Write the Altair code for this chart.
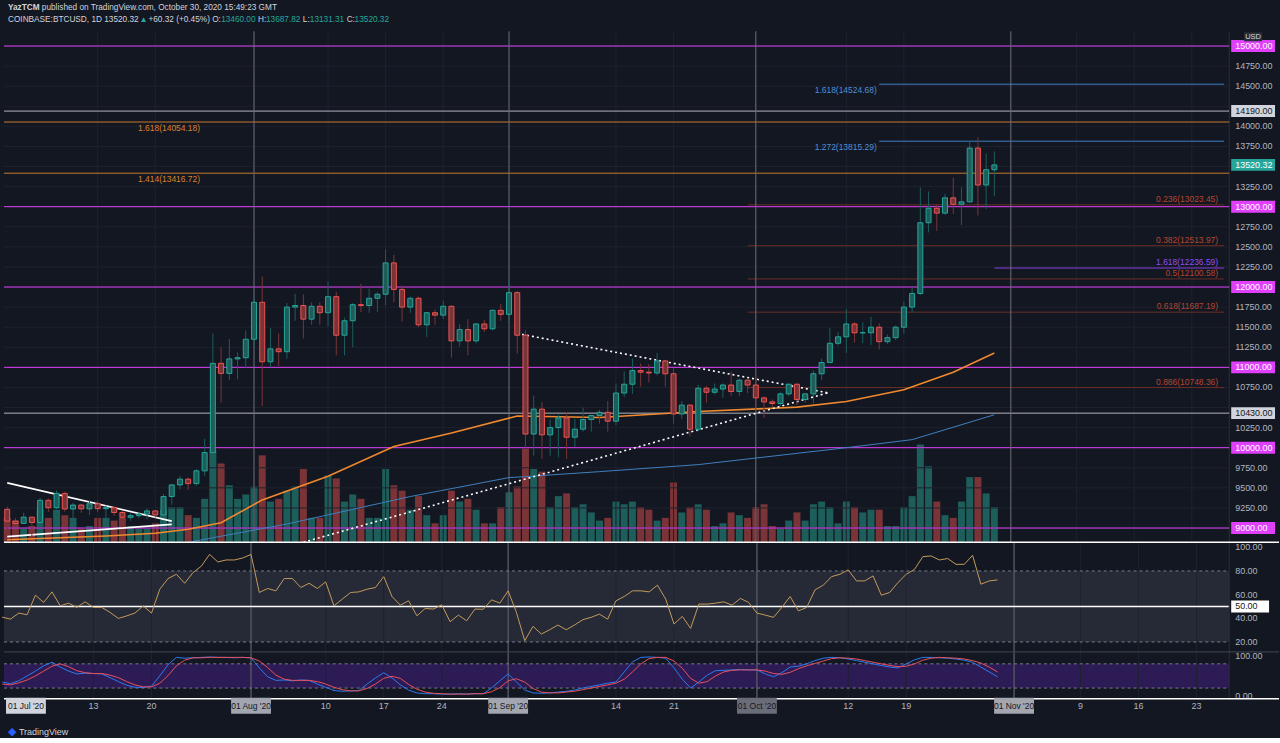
import altair as alt
import pandas as pd

FONT = "Liberation Sans"
BG = "#131722"
UP = "#26a69a"
DOWN = "#ef5350"
MAGENTA = "#e040fb"
TXT = "#b2b5be"
GRID = "#1e222d"

# ---------------- data ----------------
dates = pd.date_range("2020-07-02", periods=121, freq="D")

opens = [9232, 9086, 9058, 9135, 9069, 9345, 9253, 9431, 9237, 9286, 9239, 9302, 9241, 9253, 9193,
         9133, 9154, 9174, 9213, 9163, 9392, 9537, 9608, 9553, 9712, 9939, 11050, 10925, 11105, 11120,
         11350, 11810, 11070, 11230, 11195, 11750, 11770, 11600, 11760, 11680, 11880, 11400, 11580, 11780, 11770,
         11860, 11910, 12300, 11970, 11750, 11860, 11530, 11680, 11650, 11760, 11330, 11470, 11330, 11540, 11480, 11710,
         11660, 11930, 11400, 10170, 10480, 10160, 10250, 10370, 10130, 10230, 10350, 10400, 10440, 10330, 10680,
         10790, 10960, 10940, 10930, 11080, 10920, 10420, 10530, 10230, 10740, 10690, 10730, 10780, 10700, 10840,
         10780, 10620, 10570, 10550, 10670, 10790, 10600, 10670, 10920, 11060, 11300, 11380, 11540, 11430, 11430,
         11500, 11320, 11370, 11500, 11750, 11920, 12800, 12980, 12920, 13110, 13030, 13060, 13730, 13270, 13460]
closes = opens[1:] + [13520]
highs = [9268, 9125, 9190, 9140, 9375, 9365, 9470, 9452, 9315, 9300, 9345, 9340, 9280, 9275, 9215,
         9185, 9190, 9245, 9225, 9425, 9545, 9650, 9628, 9735, 10110, 11420, 11250, 11350, 11185, 11460,
         11870, 12130, 11490, 11420, 11800, 11915, 11910, 11810, 11810, 12070, 11940, 11620, 11800, 12040, 11980,
         11935, 12470, 12400, 12020, 11880, 11880, 11690, 11720, 11830, 11770, 11540, 11600, 11550, 11590, 11720, 11790,
         12090, 11950, 11460, 10650, 10570, 10350, 10410, 10440, 10360, 10500, 10400, 10470, 10580, 10800, 10950,
         11110, 11050, 11040, 11180, 11090, 10990, 10580, 10540, 10780, 10770, 10800, 10800, 10950, 10860, 10850,
         10920, 10640, 10600, 10690, 10800, 10800, 10680, 10960, 11110, 11490, 11440, 11730, 11560, 11560, 11630,
         11550, 11410, 11520, 11820, 12000, 13240, 13190, 13030, 13160, 13360, 13240, 13820, 13860, 13660, 13688]
lows = [8935, 9040, 9050, 8900, 9055, 9200, 9235, 9205, 9120, 9190, 9160, 9200, 9115, 9150, 9010,
        9090, 9120, 9110, 9130, 9150, 9290, 9480, 9475, 9527, 9650, 9920, 10560, 10840, 10850, 10990,
        11240, 10520, 11000, 11015, 11105, 11580, 11360, 11530, 11530, 11510, 11150, 11150, 11250, 11690, 11680,
        11690, 11770, 11810, 11570, 11680, 11500, 11380, 11530, 11600, 11120, 11260, 11150, 11300, 11440, 11460, 11580,
        11560, 11170, 10000, 9900, 9860, 9900, 9880, 9860, 10010, 10200, 10200, 10300, 10200, 10280, 10630,
        10670, 10760, 10810, 10900, 10760, 10300, 10360, 10140, 10200, 10560, 10660, 10620, 10640, 10640, 10680,
        10450, 10370, 10500, 10520, 10640, 10530, 10560, 10550, 10840, 11060, 11270, 11180, 11310, 11300, 11280,
        11220, 11290, 11340, 11420, 11680, 11900, 12680, 12700, 12900, 12910, 12770, 13050, 12890, 12970, 13131]
volumes = [9, 8, 5, 6, 12, 9, 12, 10, 9, 5, 6, 9, 9, 8, 9,
           6, 5, 5, 7, 12, 13, 13, 10, 9, 16, 34, 29, 21, 16, 17.6,
           20.5, 32, 15, 16, 19, 20.5, 27, 9, 9, 24.6, 23.5, 15, 17.6, 16, 9,
           9, 27, 21, 19, 12, 17, 10, 7, 10, 19, 15, 16, 12, 7, 7, 13,
           18.4, 20.5, 34.5, 27, 26, 13, 17, 18, 13, 14, 11, 8, 9, 15, 14,
           15, 13, 12, 8, 9, 22, 11, 13, 14, 12, 6, 7, 11, 10, 9,
           13, 14, 6, 5, 8, 11, 8, 14, 15, 13, 7, 15, 13, 11, 12,
           12, 6, 6, 13, 17, 36, 28, 15, 10, 9, 15, 24, 24, 18, 13]
rsi = [41, 39.3, 44.4, 43, 59.5, 53.4, 62.3, 50.5, 52.8, 49.2, 53.9, 49.2, 49.2, 45, 39.9,
       42, 44.4, 50.5, 44.4, 64.6, 73.6, 77.2, 69.6, 78.6, 84, 94, 87.6, 89.3, 89.3, 91,
       94, 61.8, 65.2, 63.2, 73.6, 73.6, 66, 69.6, 65.2, 70.8, 50.5, 56.2, 61.8, 62.3, 64.6,
       66, 75.2, 58.4, 51.1, 54.8, 42.1, 48.3, 47.8, 51.4, 37.1, 42.7, 37.9, 47.8, 47.6, 55.6, 52.8,
       63.2, 45, 21.1, 33.2, 26.7, 30.3, 34.3, 30.3, 34.3, 38.8, 40.8, 43.5, 39.3, 54.8, 58.4,
       63.2, 63.2, 62.3, 68, 56.2, 35.1, 41.6, 31.5, 52, 52, 52.8, 53.9, 51.1, 56.8, 53.4,
       44.4, 42.7, 40.8, 49.2, 58.4, 46.3, 49.2, 64, 68, 75.2, 77.2, 80.9, 71.6, 71.6, 75.8,
       59.5, 61.8, 70.2, 77.2, 81.4, 92.1, 92.7, 89.3, 90.5, 85.6, 85.6, 93.2, 68.8, 71.6, 72.4]
stoch_k = [35, 31, 38, 50, 62, 75, 84, 72, 62, 55, 57, 56, 55, 46, 36,
           27, 22, 21, 25, 50, 78, 96, 94, 95, 96, 97, 96, 96, 95, 96,
           95, 70, 48, 39, 40, 38, 40, 39, 30, 22, 14, 12, 13, 14, 30,
           45, 58, 45, 28, 15, 8, 6, 6, 5, 5, 6, 5, 6, 6, 20, 38,
           55, 35, 15, 8, 7, 8, 10, 12, 15, 20, 24, 28, 32, 35, 60,
           85, 96, 97, 96, 94, 70, 42, 20, 35, 52, 63, 64, 65, 66, 65,
           65, 55, 48, 58, 72, 74, 80, 88, 94, 96, 95, 92, 88, 84, 80,
           76, 72, 70, 80, 90, 96, 96, 95, 94, 92, 89, 84, 72, 60, 48]
stoch_d = [30, 28, 33, 40, 50, 62, 74, 80, 73, 63, 58, 56, 56, 52, 46,
           36, 28, 23, 23, 32, 51, 75, 89, 95, 95, 96, 96, 96, 96, 96,
           95, 87, 71, 52, 42, 39, 39, 39, 36, 30, 22, 16, 13, 13, 19,
           30, 44, 49, 44, 29, 17, 10, 7, 6, 5, 5, 5, 6, 6, 11, 21,
           38, 43, 35, 19, 10, 8, 8, 10, 12, 16, 20, 24, 28, 32, 42,
           60, 80, 93, 96, 96, 87, 69, 44, 32, 36, 50, 60, 64, 65, 65,
           65, 62, 56, 54, 59, 68, 75, 81, 87, 93, 95, 94, 92, 88, 84,
           80, 76, 73, 74, 80, 89, 94, 96, 95, 94, 92, 88, 82, 72, 60]

ma_orange_dates = ["2020-07-02", "2020-07-14", "2020-07-20", "2020-07-24", "2020-07-28", "2020-08-02",
                   "2020-08-10", "2020-08-18", "2020-08-25", "2020-09-02", "2020-09-12", "2020-09-24",
                   "2020-10-06", "2020-10-12", "2020-10-19", "2020-10-25", "2020-10-30"]
ma_orange_vals = [8855, 8900, 8935, 8985, 9066, 9350, 9644, 10016, 10182, 10395, 10375, 10450,
                  10505, 10574, 10720, 10940, 11178]
ma_blue_dates = ["2020-07-24", "2020-08-05", "2020-08-20", "2020-09-01", "2020-09-03", "2020-09-12",
                 "2020-09-24", "2020-10-12", "2020-10-20", "2020-10-30"]
ma_blue_vals = [8822, 9050, 9392, 9628, 9640, 9702, 9789, 10000, 10100, 10410]

# levels
magenta_levels = [15000, 13000, 12000, 11000, 10000, 9000]
gray_levels = [14190, 10430]
orange_levels = [14054.18, 13416.72]
orange_labels = ["1.618(14054.18)", "1.414(13416.72)"]
blue_levels = [14524.68, 13815.29]
blue_labels = ["1.618(14524.68)", "1.272(13815.29)"]
fib_levels = [13023.45, 12513.97, 12100.58, 11687.19, 10748.36]
fib_labels = ["0.236(13023.45)", "0.382(12513.97)", "0.5(12100.58)", "0.618(11687.19)", "0.886(10748.36)"]
purple_level = [12236.59]
purple_label = ["1.618(12236.59)"]

price_ticks = [9250, 9500, 9750, 10250, 10750, 11250, 11500, 11750, 12250, 12500, 12750,
               13250, 13750, 14000, 14500, 14750]
price_grid = list(range(9000, 15001, 250))
rsi_ticks = [100, 80, 60, 40, 20]
stoch_ticks = [100, 0]

trend_solid = [("a", "2020-07-02", 9562), ("a", "2020-07-22", 9086),
               ("b", "2020-07-02", 8893), ("b", "2020-07-22", 9045)]
trend_dotted = [("c", "2020-09-02", 11422), ("c", "2020-10-10", 10678),
                ("d", "2020-08-07", 8822), ("d", "2020-10-10", 10690)]

month_days = ["2020-08-01", "2020-09-01", "2020-10-01", "2020-11-01"]
month_labels = ["01 Aug '20", "01 Sep '20", "01 Oct '20", "01 Nov '20"]
week_days = ["2020-07-13", "2020-07-20", "2020-08-10", "2020-08-17", "2020-08-24", "2020-09-14",
             "2020-09-21", "2020-10-12", "2020-10-19", "2020-11-09", "2020-11-16", "2020-11-23"]
week_labels = ["13", "20", "10", "17", "24", "14", "21", "12", "19", "9", "16", "23"]

# ---------------- helpers ----------------
T0 = pd.Timestamp("2020-07-01")


def dn(s):
    return (pd.Timestamp(s) - T0).days


W = 1230
XS = alt.Scale(domain=[1.213, 148.94], nice=False, zero=False)
PS = alt.Scale(domain=[8822, 15183], nice=False, zero=False)
RS = alt.Scale(domain=[11.6, 104.2], nice=False, zero=False)
SS = alt.Scale(domain=[-6.4, 109.6], nice=False, zero=False)
grid_df = pd.DataFrame({"d": sorted([dn(d) for d in week_days] + [dn(d) for d in month_days])})
one = pd.DataFrame({"a": [0]})


def X(field="d"):
    return alt.X(field + ":Q", scale=XS, axis=None)


def vgrid():
    return alt.Chart(grid_df).mark_rule(color=GRID, strokeWidth=1).encode(x=X())


def tick_labels(vals, scale):
    t = pd.DataFrame({"v": vals, "t": ["%.2f" % v for v in vals]})
    return alt.Chart(t).mark_text(align="left", fontSize=9, font=FONT, color=TXT).encode(
        x=alt.value(W + 6), y=alt.Y("v:Q", scale=scale, axis=None), text="t:N")


df = pd.DataFrame({"d": [(d - T0).days for d in dates], "o": opens, "h": highs, "l": lows,
                   "c": closes, "v": volumes})
df["dir"] = ["up" if c >= o else "down" for o, c in zip(opens, closes)]
dir_scale = alt.Scale(domain=["up", "down"], range=[UP, DOWN])
vol_scale = alt.Scale(domain=["up", "down"], range=["#1d5d5a", "#7a3437"])

# ---------------- main panel ----------------
vol = alt.Chart(df).mark_bar(size=7).encode(
    x=X(), y=alt.Y("v:Q", scale=alt.Scale(domain=[0, 188], nice=False), axis=None),
    color=alt.Color("dir:N", scale=vol_scale, legend=None))

hgrid = alt.Chart(pd.DataFrame({"p": price_grid})).mark_rule(color=GRID, strokeWidth=1).encode(
    x=alt.value(0), x2=alt.value(W), y=alt.Y("p:Q", scale=PS, axis=None))
border = alt.Chart(one).mark_rule(color="#2a2e39", strokeWidth=1).encode(
    x=alt.value(W), y=alt.value(0), y2=alt.value(513))

full_lines = pd.DataFrame({
    "p": magenta_levels + gray_levels + orange_levels,
    "col": [MAGENTA] * len(magenta_levels) + ["#b2b5be"] * len(gray_levels) + ["#c77a2e"] * len(orange_levels),
})
rules_full = alt.Chart(full_lines).mark_rule(strokeWidth=1).encode(
    x=alt.value(0), x2=alt.value(W),
    y=alt.Y("p:Q", scale=PS, axis=None), color=alt.Color("col:N", scale=None))

part = pd.DataFrame({
    "p": blue_levels + fib_levels + purple_level,
    "x0": [dn("2020-10-16")] * 2 + [dn("2020-09-30")] * 5 + [dn("2020-10-30")],
    "col": ["#3d7fc4"] * 2 + ["#6b2d26"] * 5 + ["#8a3ee0"],
})
part["x1"] = 148.94
rules_part = alt.Chart(part).mark_rule(strokeWidth=1).encode(
    x=X("x0"), x2="x1:Q", y=alt.Y("p:Q", scale=PS, axis=None), color=alt.Color("col:N", scale=None))

months_df = pd.DataFrame({"d": [dn(d) for d in month_days], "lab": month_labels})


def vmonths():
    return alt.Chart(months_df).mark_rule(strokeWidth=1, color="#6a6d78").encode(x=X())


ma_o = pd.DataFrame({"d": [dn(d) for d in ma_orange_dates], "v": ma_orange_vals})
ma_b = pd.DataFrame({"d": [dn(d) for d in ma_blue_dates], "v": ma_blue_vals})
line_o = alt.Chart(ma_o).mark_line(color="#f0892e", strokeWidth=1.6, clip=True).encode(
    x=X(), y=alt.Y("v:Q", scale=PS, axis=None))
line_b = alt.Chart(ma_b).mark_line(color="#3f7fbf", strokeWidth=1, clip=True).encode(
    x=X(), y=alt.Y("v:Q", scale=PS, axis=None))

ts = pd.DataFrame(trend_solid, columns=["id", "date", "p"])
ts["d"] = [dn(d) for d in ts["date"]]
td = pd.DataFrame(trend_dotted, columns=["id", "date", "p"])
td["d"] = [dn(d) for d in td["date"]]
tl_solid = alt.Chart(ts).mark_line(color="#ffffff", strokeWidth=1.6, clip=True).encode(
    x=X(), y=alt.Y("p:Q", scale=PS, axis=None), detail="id:N")
tl_dot = alt.Chart(td).mark_line(color="#ffffff", strokeWidth=1.6, strokeDash=[2, 3], clip=True).encode(
    x=X(), y=alt.Y("p:Q", scale=PS, axis=None), detail="id:N")

wicks = alt.Chart(df).mark_rule(strokeWidth=1, clip=True).encode(
    x=X(), y=alt.Y("l:Q", scale=PS, axis=None), y2="h:Q",
    color=alt.Color("dir:N", scale=dir_scale, legend=None))
bodies = alt.Chart(df).mark_bar(size=5, strokeWidth=1, clip=True).encode(
    x=X(), y=alt.Y("o:Q", scale=PS, axis=None), y2="c:Q",
    color=alt.Color("dir:N", scale=dir_scale, legend=None),
    stroke=alt.Stroke("dir:N", scale=dir_scale, legend=None))

lab_left = pd.DataFrame({"p": orange_levels, "t": orange_labels})
lab_left["d"] = 16.9
txt_orange = alt.Chart(lab_left).mark_text(align="left", baseline="top", dy=2, fontSize=8.5,
                                           font=FONT, color="#d9822b").encode(
    x=X(), y=alt.Y("p:Q", scale=PS, axis=None), text="t:N")
lab_blue = pd.DataFrame({"p": blue_levels, "t": blue_labels})
lab_blue["d"] = dn("2020-10-16") - 0.3
txt_blue = alt.Chart(lab_blue).mark_text(align="right", baseline="top", dy=2, fontSize=8.5,
                                         font=FONT, color="#4d8fd6").encode(
    x=X(), y=alt.Y("p:Q", scale=PS, axis=None), text="t:N")
lab_fib = pd.DataFrame({"p": fib_levels + purple_level, "t": fib_labels + purple_label,
                        "col": ["#b5452f"] * 5 + ["#8f4ef0"]})
lab_fib["d"] = 148.2
txt_fib = alt.Chart(lab_fib).mark_text(align="right", baseline="bottom", dy=-1, fontSize=8.5,
                                       font=FONT).encode(
    x=X(), y=alt.Y("p:Q", scale=PS, axis=None), text="t:N", color=alt.Color("col:N", scale=None))

badges = pd.DataFrame({
    "p": magenta_levels + gray_levels + [13520.32],
    "t": ["%.2f" % v for v in magenta_levels + gray_levels + [13520.32]],
    "bg": [MAGENTA] * 6 + ["#d1d4dc"] * 2 + [UP],
    "fg": ["#ffffff"] * 6 + ["#131722"] * 2 + ["#ffffff"],
})
badge_rect = alt.Chart(badges).mark_rect(yOffset=-6, y2Offset=6).encode(
    x=alt.value(W + 2), x2=alt.value(W + 46),
    y=alt.Y("p:Q", scale=PS, axis=None), y2="p:Q", color=alt.Color("bg:N", scale=None))
badge_text = alt.Chart(badges).mark_text(fontSize=9, font=FONT, align="left").encode(
    x=alt.value(W + 6), y=alt.Y("p:Q", scale=PS, axis=None), text="t:N",
    color=alt.Color("fg:N", scale=None))
usd_box = alt.Chart(one).mark_rect(color="#2a2e39").encode(
    x=alt.value(W + 15), x2=alt.value(W + 33), y=alt.value(1), y2=alt.value(10))
usd_txt = alt.Chart(one).mark_text(text="USD", fontSize=7.5, font=FONT, color="#d1d4dc").encode(
    x=alt.value(W + 24), y=alt.value(5.5))

price_group = alt.layer(hgrid, vgrid(), border, rules_full, rules_part, vmonths(), line_b, line_o,
                        tl_solid, tl_dot, wicks, bodies, txt_orange, txt_blue, txt_fib,
                        tick_labels(price_ticks, PS), badge_rect, badge_text, usd_box, usd_txt)
main = alt.layer(vol, price_group).resolve_scale(y="independent").properties(width=W, height=513)

# ---------------- header ----------------
HF = 8.3
hdr = []
hdr.append(alt.Chart(one).mark_text(text="YazTCM", align="left", fontSize=HF, font=FONT,
                                     fontWeight="bold", color="#d1d4dc").encode(
    x=alt.value(4), y=alt.value(7)))
hdr.append(alt.Chart(one).mark_text(text="published on TradingView.com, October 30, 2020 15:49:23 GMT",
                                     align="left", fontSize=HF, font=FONT, color="#d1d4dc").encode(
    x=alt.value(38), y=alt.value(7)))
segs = [("COINBASE:BTCUSD, 1D 13520.32", 4, "#d1d4dc"), ("▲", 136, UP), ("+60.32 (+0.45%)", 145, "#d1d4dc"),
        ("O:", 209, "#d1d4dc"), ("13460.00", 218, UP), ("H:", 255, "#d1d4dc"), ("13687.82", 263, UP),
        ("L:", 300, "#d1d4dc"), ("13131.31", 307, UP), ("C:", 344, "#d1d4dc"), ("13520.32", 352, UP)]
for t, xp, col in segs:
    hdr.append(alt.Chart(one).mark_text(text=t, align="left", fontSize=HF, font=FONT, color=col).encode(
        x=alt.value(xp), y=alt.value(19)))
header = alt.layer(*hdr).properties(width=W, height=30)

# ---------------- RSI panel ----------------
ind = pd.DataFrame({"d": df["d"], "rsi": rsi, "k": stoch_k, "dd": stoch_d})
band = pd.DataFrame({"y1": [80], "y2": [20]})
rsi_band = alt.Chart(band).mark_rect(color="#262a36").encode(
    x=alt.value(0), x2=alt.value(W), y=alt.Y("y1:Q", scale=RS, axis=None), y2="y2:Q")
dash_df = pd.DataFrame({"v": [80, 20]})
rsi_dash = alt.Chart(dash_df).mark_rule(color="#787b86", strokeDash=[3, 3], strokeWidth=1).encode(
    x=alt.value(0), x2=alt.value(W), y=alt.Y("v:Q", scale=RS, axis=None))
rsi_mid = alt.Chart(pd.DataFrame({"v": [50]})).mark_rule(color="#ffffff", strokeWidth=1.5).encode(
    x=alt.value(0), x2=alt.value(W), y=alt.Y("v:Q", scale=RS, axis=None))
rsi_line = alt.Chart(ind).mark_line(color="#c49a5c", strokeWidth=1).encode(
    x=X(), y=alt.Y("rsi:Q", scale=RS, axis=None))
rsi_badge = alt.Chart(pd.DataFrame({"v": [50], "t": ["50.00"]})).mark_rect(
    color="#ffffff", yOffset=-6, y2Offset=6).encode(
    x=alt.value(W + 2), x2=alt.value(W + 40), y=alt.Y("v:Q", scale=RS, axis=None), y2="v:Q")
rsi_btxt = alt.Chart(pd.DataFrame({"v": [50], "t": ["50.00"]})).mark_text(
    fontSize=9, font=FONT, align="left", color="#131722").encode(
    x=alt.value(W + 6), y=alt.Y("v:Q", scale=RS, axis=None), text="t:N")
sep_top = alt.Chart(one).mark_rule(color="#ffffff", strokeWidth=1.5).encode(
    x=alt.value(0), x2=alt.value(1280), y=alt.value(0))
rsi_border = alt.Chart(one).mark_rule(color="#2a2e39", strokeWidth=1).encode(
    x=alt.value(W), y=alt.value(0), y2=alt.value(110))
rsi_panel = alt.layer(rsi_band, vgrid(), vmonths(), rsi_dash, rsi_mid, rsi_line, rsi_border,
                      tick_labels(rsi_ticks, RS), rsi_badge, rsi_btxt,
                      sep_top).properties(width=W, height=110)

# ---------------- Stoch RSI panel ----------------
st_band = alt.Chart(band).mark_rect(color="#2d1b55").encode(
    x=alt.value(0), x2=alt.value(W), y=alt.Y("y1:Q", scale=SS, axis=None), y2="y2:Q")
st_dash = alt.Chart(dash_df).mark_rule(color="#787b86", strokeDash=[3, 3], strokeWidth=1).encode(
    x=alt.value(0), x2=alt.value(W), y=alt.Y("v:Q", scale=SS, axis=None))
st_k = alt.Chart(ind).mark_line(color="#2a7bf0", strokeWidth=1).encode(
    x=X(), y=alt.Y("k:Q", scale=SS, axis=None))
st_d = alt.Chart(ind).mark_line(color="#e8505b", strokeWidth=1).encode(
    x=X(), y=alt.Y("dd:Q", scale=SS, axis=None))
sep_mid = alt.Chart(one).mark_rule(color="#434651", strokeWidth=1).encode(
    x=alt.value(0), x2=alt.value(1280), y=alt.value(0))
sep_bot = alt.Chart(one).mark_rule(color="#ffffff", strokeWidth=1.5).encode(
    x=alt.value(0), x2=alt.value(1280), y=alt.value(47))
st_border = alt.Chart(one).mark_rule(color="#2a2e39", strokeWidth=1).encode(
    x=alt.value(W), y=alt.value(0), y2=alt.value(47))

wk = pd.DataFrame({"d": [dn(d) for d in week_days], "t": week_labels})
wk_txt = alt.Chart(wk).mark_text(fontSize=9, font=FONT, color=TXT).encode(
    x=X(), y=alt.value(54), text="t:N")
mb = pd.DataFrame({"d": [3.86] + [dn(d) for d in month_days], "t": ["01 Jul '20"] + month_labels,
                   "bg": ["#d1d4dc", "#a3a6af", "#a3a6af", "#6a6d78", "#a3a6af"]})
mb_rect = alt.Chart(mb).mark_rect(xOffset=-20, x2Offset=20).encode(
    x=X(), x2="d:Q", y=alt.value(46), y2=alt.value(62), color=alt.Color("bg:N", scale=None))
mb_txt = alt.Chart(mb).mark_text(fontSize=8.5, font=FONT, color="#131722").encode(
    x=X(), y=alt.value(54), text="t:N")
logo_icon = alt.Chart(one).mark_text(text="◆", fontSize=11, color="#2962ff").encode(
    x=alt.value(8), y=alt.value(80))
logo = alt.Chart(one).mark_text(text="TradingView", align="left", fontSize=9, font=FONT,
                                color="#d1d4dc").encode(x=alt.value(15), y=alt.value(80))

st_panel = alt.layer(st_band, vgrid(), vmonths(), st_dash, st_k, st_d, st_border,
                     tick_labels(stoch_ticks, SS), sep_mid, sep_bot, wk_txt, mb_rect, mb_txt,
                     logo_icon, logo).properties(width=W, height=47)

chart = alt.vconcat(header, main, rsi_panel, st_panel, spacing=0, bounds="flush").properties(
    padding=0, background=BG
).configure_view(strokeWidth=0)

chart.save("out.html", embed_options={"renderer": "svg", "actions": False})
